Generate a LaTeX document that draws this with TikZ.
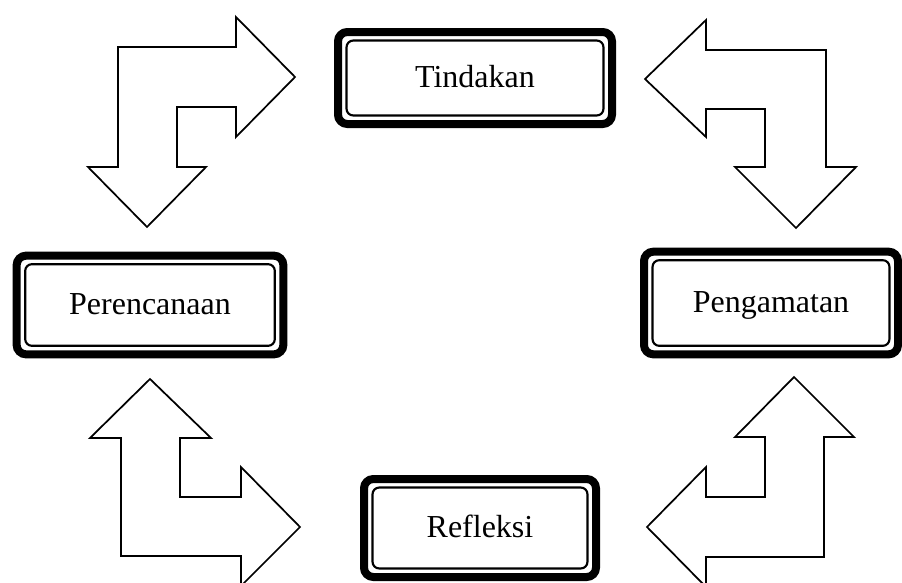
\documentclass[tikz,border=0pt]{standalone}
\usepackage{fontspec}
\setmainfont{Liberation Serif}
\usepackage{xcolor}
\usepackage{tikz}
\usetikzlibrary{calc}
\definecolor{linec}{HTML}{000000}
\tikzset{
  stage/.style={draw=linec,line width=6pt,rounded corners=7pt,fill=white,inner sep=0pt,outer sep=0pt,
    text height=17pt,text depth=3pt,font=\fontsize{24}{28}\selectfont},
  inb/.style={draw=linec,line width=1.6pt,rounded corners=5pt},
  blk/.style={draw=linec,line width=1.3pt,fill=white,line join=miter}
}
\begin{document}
\begin{tikzpicture}[x=0.75pt,y=-0.75pt]
\useasboundingbox (0,0) rectangle (902,582);
% kotak tahapan
\node[stage,minimum width=205.5pt,minimum height=69pt] (tind) at (475,78) {Tindakan};
\node[stage,minimum width=190.5pt,minimum height=77pt] (peng) at (771,303) {Pengamatan};
\node[stage,minimum width=174pt,minimum height=73.5pt] (refl) at (480,528) {Refleksi};
\node[stage,minimum width=200pt,minimum height=74pt] (renc) at (150,305) {Perencanaan};
\foreach \nm in {tind,peng,refl,renc}{
  \draw[inb] ($(\nm.south west)+(6.4pt,6.4pt)$) rectangle ($(\nm.north east)-(6.4pt,6.4pt)$);
}
% panah siku
\draw[blk] (118,47)--(236,47)--(236,17)--(295,77)--(236,137)--(236,107)--(177,107)--(177,167)
  --(206,167)--(147,227)--(88,167)--(118,167)--cycle;
\draw[blk] (826,50)--(706,50)--(706,20)--(645,79)--(706,137)--(706,109)--(765,109)--(765,167)
  --(735,167)--(796,228)--(856,167)--(826,167)--cycle;
\draw[blk] (121,556)--(241,556)--(241,586)--(300,527)--(241,467)--(241,497)--(180,497)--(180,438)
  --(211,438)--(150,379)--(90,438)--(121,438)--cycle;
\draw[blk] (824,557)--(706,557)--(706,587)--(647,527)--(706,467)--(706,497)--(765,497)--(765,437)
  --(735,437)--(794,377)--(854,437)--(824,437)--cycle;
\end{tikzpicture}
\end{document}
